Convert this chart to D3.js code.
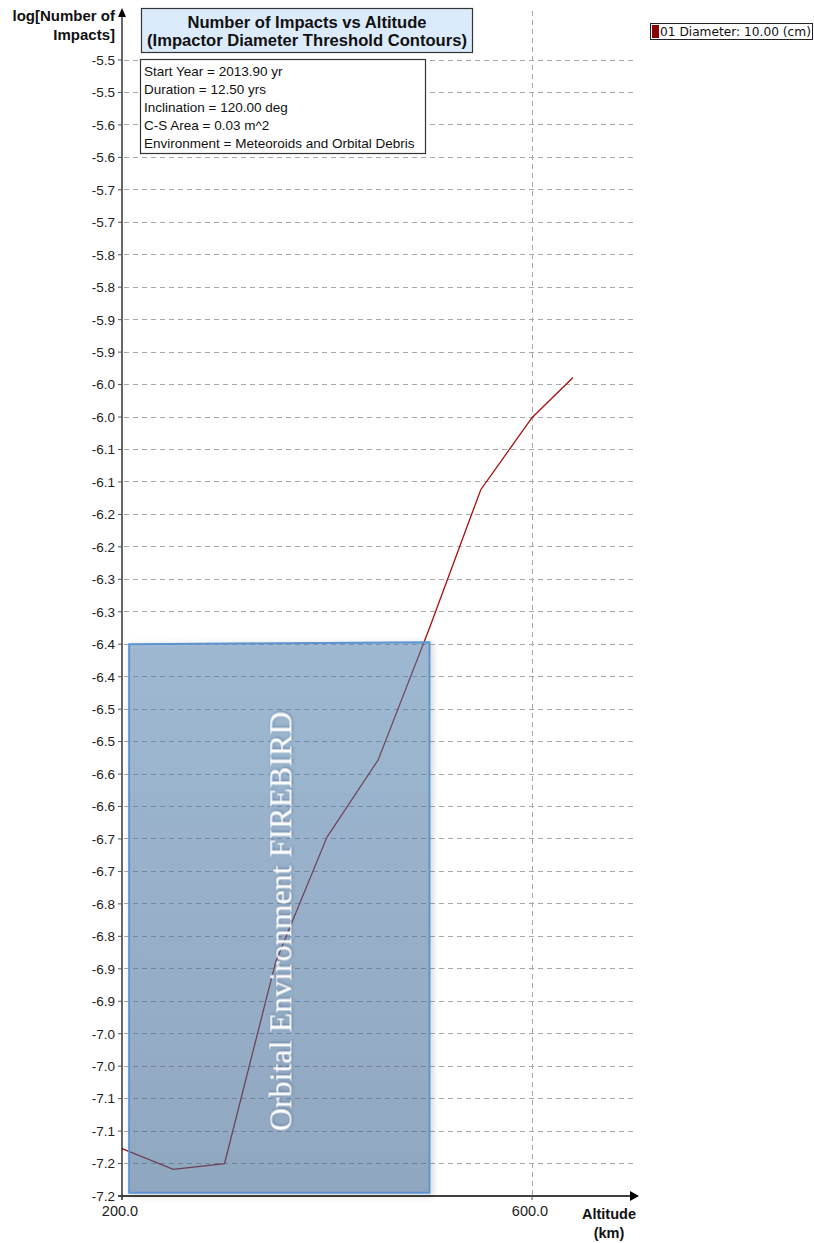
<!DOCTYPE html>
<html><head><meta charset="utf-8">
<script src="https://cdn.jsdelivr.net/npm/d3@7"></script>
<style>
html,body{margin:0;padding:0;background:#fff;}
svg{display:block;}
</style></head>
<body>
<svg id="chart" width="814" height="1243"></svg>
<script>
// ---- data ----
const altitudes = [200, 250, 300, 350, 400, 450, 500, 550, 600, 640];
const logImpacts = [-7.177, -7.209, -7.200, -6.889, -6.697, -6.578, -6.375, -6.162, -6.051, -5.989];
const yTickValues = [-5.50,-5.55,-5.60,-5.65,-5.70,-5.75,-5.80,-5.85,-5.90,-5.95,-6.00,-6.05,-6.10,-6.15,-6.20,-6.25,-6.30,-6.35,-6.40,-6.45,-6.50,-6.55,-6.60,-6.65,-6.70,-6.75,-6.80,-6.85,-6.90,-6.95,-7.00,-7.05,-7.10,-7.15,-7.20,-7.25];
const yTickLabels = ["-5.5","-5.5","-5.6","-5.6","-5.7","-5.7","-5.8","-5.8","-5.9","-5.9","-6.0","-6.0","-6.1","-6.1","-6.2","-6.2","-6.3","-6.3","-6.4","-6.4","-6.5","-6.5","-6.6","-6.6","-6.7","-6.7","-6.8","-6.8","-6.9","-6.9","-7.0","-7.0","-7.1","-7.1","-7.2","-7.2"];
const xTickValues = [200, 600];
const xTickLabels = ["200.0", "600.0"];
const titleLines = ["Number of Impacts vs Altitude", "(Impactor Diameter Threshold Contours)"];
const infoLines = ["Start Year = 2013.90 yr", "Duration = 12.50 yrs", "Inclination = 120.00 deg", "C-S Area = 0.03 m^2", "Environment = Meteoroids and Orbital Debris"];
const yLabelLines = ["log[Number of", "Impacts]"];
const xLabelLines = ["Altitude", "(km)"];
const legendLabels = ["01 Diameter: 10.00 (cm)"];
const firebirdAlt = [207, 500];
const firebirdLog = [-7.245, -6.40, -6.397];
const firebirdLabel = "Orbital Environment FIREBIRD";

// ---- layout ----
const svg = d3.select("#chart");
const x = d3.scaleLinear().domain([200, 600]).range([122, 532]);
const y = d3.scaleLinear().domain([-7.25, -5.5]).range([1196, 60]);
const xEnd = 636, yTop = 9;
const lineColor = "#a50f0f";

const defs = svg.append("defs");
const grad = defs.append("linearGradient").attr("id","fbGrad").attr("x1",0).attr("y1",0).attr("x2",0).attr("y2",1);
grad.append("stop").attr("offset","0%").attr("stop-color","rgb(82,131,180)").attr("stop-opacity",0.48);
grad.append("stop").attr("offset","100%").attr("stop-color","rgb(66,108,152)").attr("stop-opacity",0.51);
const shadow = defs.append("filter").attr("id","shadow").attr("x","-10%").attr("y","-10%").attr("width","130%").attr("height","130%");
shadow.append("feDropShadow").attr("dx",2).attr("dy",2).attr("stdDeviation",3).attr("flood-color","#000").attr("flood-opacity",0.25);
const glow = defs.append("filter").attr("id","glow").attr("x","-20%").attr("y","-20%").attr("width","140%").attr("height","140%");
glow.append("feDropShadow").attr("dx",1).attr("dy",1).attr("stdDeviation",1.5).attr("flood-color","#30506f").attr("flood-opacity",0.5);

// ---- grid ----
const grid = svg.append("g");
grid.selectAll("line.h").data(yTickValues.slice(0, -1)).join("line")
  .attr("x1", x(200) + 2).attr("x2", xEnd)
  .attr("y1", d => y(d)).attr("y2", d => y(d))
  .attr("stroke", "#a8a8a8").attr("stroke-width", 1).attr("stroke-dasharray", "5,4")
  .attr("shape-rendering","crispEdges");
grid.selectAll("line.v").data(xTickValues.slice(1)).join("line")
  .attr("x1", d => x(d)).attr("x2", d => x(d))
  .attr("y1", yTop + 2).attr("y2", y(-7.25))
  .attr("stroke", "#a8a8a8").attr("stroke-width", 1).attr("stroke-dasharray", "5,4")
  .attr("shape-rendering","crispEdges");

// ---- data line ----
const pts = altitudes.map((a, i) => [a, logImpacts[i]]);
svg.append("path").datum(pts)
  .attr("fill", "none").attr("stroke", lineColor).attr("stroke-width", 1.3)
  .attr("d", d3.line().x(d => x(d[0])).y(d => y(d[1])));

// ---- FIREBIRD region ----
const fbPoly = [[firebirdAlt[0], firebirdLog[1]], [firebirdAlt[1], firebirdLog[2]], [firebirdAlt[1], firebirdLog[0]], [firebirdAlt[0], firebirdLog[0]]];
svg.append("path").datum(fbPoly)
  .attr("d", d3.line().x(d => x(d[0])).y(d => y(d[1])).curve(d3.curveLinearClosed))
  .attr("fill", "url(#fbGrad)").attr("stroke", "#5b93d0").attr("stroke-width", 2)
  .attr("filter", "url(#shadow)");
const fbCx = (x(firebirdAlt[0]) + x(firebirdAlt[1])) / 2;
const fbCy = y(-6.827);
svg.append("text")
  .attr("transform", `translate(${fbCx + 12},${fbCy}) rotate(-90)`)
  .attr("text-anchor", "middle")
  .attr("font-family", "'Liberation Serif','Times New Roman',serif")
  .attr("font-size", 32).attr("fill", "#ffffff")
  .attr("filter", "url(#glow)")
  .text(firebirdLabel);

// ---- axes ----
const axes = svg.append("g").attr("font-family", "'Liberation Sans',Arial,sans-serif");
axes.append("line").attr("x1", x(200)).attr("x2", x(200)).attr("y1", yTop + 6).attr("y2", y(-7.25) + 4)
  .attr("stroke", "#000").attr("stroke-width", 1.2);
axes.append("path").attr("d", d3.line()([[x(200) - 4, yTop + 8], [x(200), yTop - 1], [x(200) + 4, yTop + 8]]) + "Z").attr("fill", "#000");
axes.append("line").attr("x1", x(200) - 4).attr("x2", xEnd - 4).attr("y1", y(-7.25)).attr("y2", y(-7.25))
  .attr("stroke", "#000").attr("stroke-width", 1.5);
axes.append("path").attr("d", d3.line()([[xEnd - 6, y(-7.25) - 5], [xEnd + 3, y(-7.25)], [xEnd - 6, y(-7.25) + 5]]) + "Z").attr("fill", "#000");

// y ticks
axes.selectAll("line.yt").data(yTickValues).join("line")
  .attr("x1", x(200) - 4).attr("x2", x(200)).attr("y1", d => y(d)).attr("y2", d => y(d))
  .attr("stroke", "#555").attr("stroke-width", 1);
axes.selectAll("text.yl").data(yTickValues).join("text")
  .attr("x", x(200) - 7).attr("y", d => y(d)).attr("dy", "0.36em")
  .attr("text-anchor", "end").attr("font-size", 13.5).attr("fill", "#222")
  .text((d, i) => yTickLabels[i]);
// x ticks
axes.selectAll("line.xt").data(xTickValues).join("line")
  .attr("x1", d => x(d)).attr("x2", d => x(d)).attr("y1", y(-7.25)).attr("y2", y(-7.25) + 4)
  .attr("stroke", "#555").attr("stroke-width", 1);
axes.selectAll("text.xl").data(xTickValues).join("text")
  .attr("x", d => x(d) - 2).attr("y", y(-7.25) + 20)
  .attr("text-anchor", "middle").attr("font-size", 14.5).attr("fill", "#222")
  .text((d, i) => xTickLabels[i]);

// axis labels
axes.selectAll("text.ylab").data(yLabelLines).join("text")
  .attr("x", 115).attr("y", (d, i) => 21 + i * 19)
  .attr("text-anchor", "end").attr("font-size", 15).attr("font-weight", "bold").attr("fill", "#111")
  .text(d => d);
axes.selectAll("text.xlab").data(xLabelLines).join("text")
  .attr("x", 609).attr("y", (d, i) => 1219 + i * 19)
  .attr("text-anchor", "middle").attr("font-size", 14.5).attr("font-weight", "bold").attr("fill", "#111")
  .text(d => d);

// ---- title box ----
const tb = svg.append("g").attr("font-family", "'Liberation Sans',Arial,sans-serif");
tb.append("rect").attr("x", 141.5).attr("y", 8.5).attr("width", 331).attr("height", 44)
  .attr("fill", "#dcebfb").attr("stroke", "#333").attr("stroke-width", 1.2);
tb.selectAll("text").data(titleLines).join("text")
  .attr("x", 307).attr("y", (d, i) => 28 + i * 18)
  .attr("text-anchor", "middle").attr("font-size", 16.6).attr("font-weight", "bold").attr("fill", "#111")
  .text(d => d);

// ---- info box ----
const ib = svg.append("g").attr("font-family", "'Liberation Sans',Arial,sans-serif");
ib.append("rect").attr("x", 140.5).attr("y", 59.5).attr("width", 285).attr("height", 94)
  .attr("fill", "#fff").attr("stroke", "#333").attr("stroke-width", 1.2);
ib.selectAll("text").data(infoLines).join("text")
  .attr("x", 144).attr("y", (d, i) => 75.5 + i * 18)
  .attr("font-size", 13.5).attr("fill", "#111")
  .text(d => d);

// ---- legend ----
const lg = svg.append("g").attr("font-family", "'DejaVu Sans',Verdana,sans-serif");
lg.append("rect").attr("x", 650.5).attr("y", 23.5).attr("width", 162).attr("height", 16)
  .attr("fill", "#fff").attr("stroke", "#222").attr("stroke-width", 1);
lg.selectAll("rect.sw").data(legendLabels).join("rect")
  .attr("x", 652).attr("y", 25).attr("width", 7).attr("height", 13).attr("fill", "#8b0000");
lg.selectAll("text").data(legendLabels).join("text")
  .attr("x", 660).attr("y", 36).attr("font-size", 12.2).attr("fill", "#111")
  .text(d => d);
</script>
</body></html>
